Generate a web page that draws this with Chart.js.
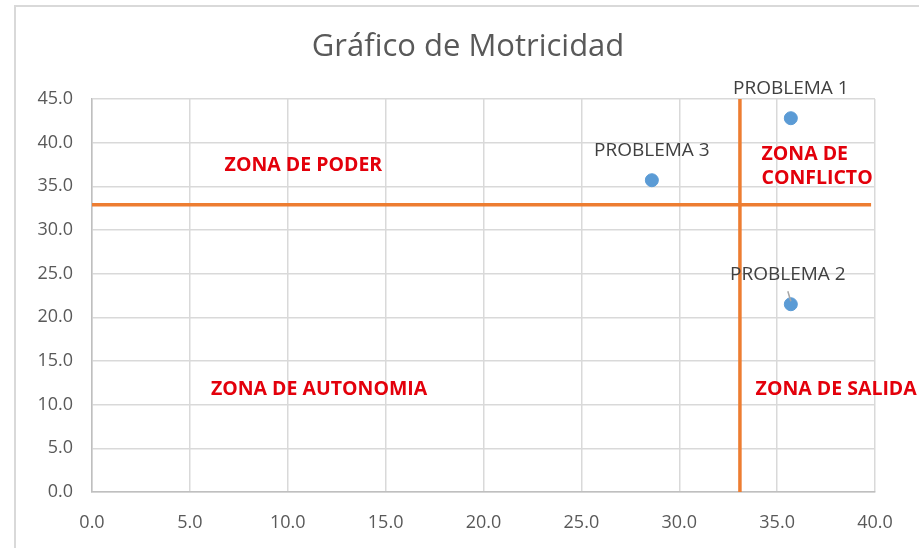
<!DOCTYPE html>
<html>
<head>
<meta charset="utf-8">
<script src="https://cdn.jsdelivr.net/npm/chart.js@4.4.1/dist/chart.umd.min.js"></script>
<style>
  html, body { margin: 0; padding: 0; background: #fff; }
  #wrap { position: relative; width: 919px; height: 548px; overflow: hidden; }
  #frame { position: absolute; left: 14px; top: 5px; width: 920px; height: 560px; border: 2px solid #d9d9d9; box-sizing: border-box; }
  canvas { position: absolute; left: 0; top: 0; }
</style>
</head>
<body>
<div id="wrap">
  <div id="frame"></div>
  <canvas id="chart" width="919" height="548"></canvas>
</div>
<script>
// datos
const chartTitle = "Gráfico de Motricidad";
const problemNames = ["PROBLEMA 1", "PROBLEMA 2", "PROBLEMA 3"];
const motricidadX = [35.7, 35.7, 28.6];
const dependenciaY = [42.8, 21.5, 35.7];
const xTicks = [0, 5, 10, 15, 20, 25, 30, 35, 40];
const yTicks = [0, 5, 10, 15, 20, 25, 30, 35, 40, 45];
const cutX = 33.1;
const cutY = 32.9;
const zoneNames = ["ZONA DE PODER", "ZONA DE CONFLICTO", "ZONA DE AUTONOMIA", "ZONA DE SALIDA"];

const FONT = "'Open Sans', 'Liberation Sans', sans-serif";

const labelsPlugin = {
  id: "labels",
  afterDatasetsDraw(chart) {
    const ctx = chart.ctx;
    const xs = chart.scales.x, ys = chart.scales.y;
    ctx.save();

    // titulo
    ctx.font = "31px " + FONT;
    ctx.fillStyle = "#595959";
    ctx.textAlign = "center";
    ctx.textBaseline = "middle";
    ctx.fillText(chartTitle, 468, 47);

    // etiquetas de los puntos
    ctx.font = "19px " + FONT;
    ctx.fillStyle = "#404040";
    problemNames.forEach((name, i) => {
      const px = xs.getPixelForValue(motricidadX[i]);
      const py = ys.getPixelForValue(dependenciaY[i]);
      const dx = i === 1 ? -3 : 0;
      ctx.fillText(name, px + dx, py - 30);
      if (i === 1) {
        ctx.strokeStyle = "#a6a6a6";
        ctx.lineWidth = 1.5;
        ctx.beginPath();
        ctx.moveTo(px - 3, py - 13);
        ctx.lineTo(px, py - 3);
        ctx.stroke();
      }
    });

    // zonas
    ctx.font = "bold 19.5px " + FONT;
    ctx.fillStyle = "#e3000b";
    ctx.textAlign = "center";
    ctx.fillText(zoneNames[0], xs.getPixelForValue(10.8), ys.getPixelForValue(37.4));
    ctx.fillText(zoneNames[2], xs.getPixelForValue(11.6), ys.getPixelForValue(11.7));
    ctx.textAlign = "left";
    const conf = zoneNames[1].split(" ");
    ctx.fillText(conf.slice(0, 2).join(" "), xs.getPixelForValue(34.2), ys.getPixelForValue(38.65));
    ctx.fillText(conf.slice(2).join(" "), xs.getPixelForValue(34.2), ys.getPixelForValue(35.9));
    ctx.fillText(zoneNames[3], xs.getPixelForValue(33.9), ys.getPixelForValue(11.8));

    ctx.restore();
  }
};

const ctx = document.getElementById("chart").getContext("2d");
new Chart(ctx, {
  type: "scatter",
  data: {
    datasets: [
      {
        label: "Problemas",
        data: motricidadX.map((x, i) => ({ x: x, y: dependenciaY[i] })),
        backgroundColor: "#5b9bd5",
        borderColor: "#5b9bd5",
        pointRadius: 6.5,
        order: 0,
      },
      {
        label: "Corte horizontal",
        data: [{ x: 0, y: cutY }, { x: 39.8, y: cutY }],
        showLine: true,
        borderColor: "#ed7d31",
        borderWidth: 3.5,
        pointRadius: 0,
        clip: false,
        order: 1,
      },
      {
        label: "Corte vertical",
        data: [{ x: cutX, y: 0 }, { x: cutX, y: 45 }],
        showLine: true,
        borderColor: "#ed7d31",
        borderWidth: 3.5,
        pointRadius: 0,
        clip: false,
        order: 1,
      },
    ],
  },
  options: {
    responsive: false,
    animation: false,
    layout: { padding: { left: 0, right: 44, top: 99, bottom: 0 } },
    plugins: {
      legend: { display: false },
      tooltip: { enabled: false },
      title: { display: false },
    },
    scales: {
      x: {
        type: "linear",
        min: 0,
        max: 40,
        afterBuildTicks: (s) => { s.ticks = xTicks.map((v) => ({ value: v })); },
        afterFit: (s) => { s.height = 56; },
        grid: { color: "#d9d9d9", lineWidth: 1.5, drawTicks: false },
        border: { color: "#bfbfbf", width: 1.5 },
        ticks: {
          color: "#595959",
          font: { family: FONT, size: 18 },
          padding: 20,
          maxRotation: 0,
          callback: (v) => Number(v).toFixed(1),
        },
      },
      y: {
        min: 0,
        max: 45,
        afterBuildTicks: (s) => { s.ticks = yTicks.map((v) => ({ value: v })); },
        afterFit: (s) => { s.width = 92; },
        grid: { color: "#d9d9d9", lineWidth: 1.5, drawTicks: false },
        border: { color: "#bfbfbf", width: 1.5 },
        ticks: {
          color: "#595959",
          font: { family: FONT, size: 18 },
          padding: 19,
          callback: (v) => Number(v).toFixed(1),
        },
      },
    },
  },
  plugins: [labelsPlugin],
});
</script>
</body>
</html>
